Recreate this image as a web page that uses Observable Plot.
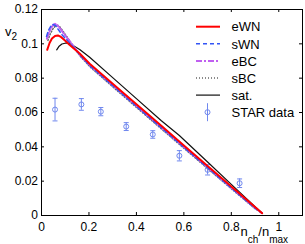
<!DOCTYPE html>
<html><head><meta charset="utf-8">
<script src="https://cdn.jsdelivr.net/npm/d3@7"></script>
<script src="https://cdn.jsdelivr.net/npm/@observablehq/plot@0.6"></script>
<style>body{margin:0;background:#fff}svg{display:block}</style>
</head><body><div id="chart"></div>
<script>
// ---- data ----
const xTicks = [0, 0.2, 0.4, 0.6, 0.8, 1];
const yTicks = [0, 0.02, 0.04, 0.06, 0.08, 0.1, 0.12];

const eWN_x = [0.024, 0.034, 0.044, 0.057, 0.069, 0.082, 0.099, 0.119, 0.161, 0.203, 0.3, 0.4, 0.5, 0.6, 0.7, 0.8, 0.9, 0.93];
const eWN_v = [0.0965, 0.1005, 0.1031, 0.1046, 0.1049, 0.1040, 0.1019, 0.0993, 0.0944, 0.0884, 0.0768, 0.0648, 0.0528, 0.0408, 0.0289, 0.0169, 0.0049, 0.0013];

const sWN_x = [0.021, 0.029, 0.040, 0.048, 0.059, 0.071, 0.086, 0.103, 0.128, 0.161, 0.203, 0.3, 0.4, 0.5, 0.6, 0.7, 0.8, 0.9, 0.93];
const sWN_v = [0.1043, 0.1078, 0.1104, 0.1113, 0.1107, 0.1083, 0.1054, 0.1028, 0.0990, 0.0936, 0.0873, 0.0756, 0.0636, 0.0517, 0.0397, 0.0279, 0.0160, 0.0043, 0.0013];

const eBC_x = [0.023, 0.032, 0.043, 0.051, 0.057, 0.066, 0.078, 0.092, 0.108, 0.13, 0.161, 0.203, 0.3, 0.4, 0.5, 0.6, 0.7, 0.8, 0.9, 0.93];
const eBC_v = [0.1030, 0.1068, 0.1098, 0.1112, 0.1117, 0.1110, 0.1090, 0.1063, 0.1035, 0.0995, 0.0938, 0.0875, 0.0758, 0.0638, 0.0519, 0.0399, 0.0280, 0.0161, 0.0044, 0.0013];

const sBC_x = [0.027, 0.036, 0.047, 0.058, 0.069, 0.078, 0.09, 0.105, 0.125, 0.161, 0.203, 0.3, 0.4, 0.5, 0.6, 0.7, 0.8, 0.9, 0.93];
const sBC_v = [0.1020, 0.1055, 0.1085, 0.1102, 0.1107, 0.1098, 0.1075, 0.1045, 0.1005, 0.0932, 0.0868, 0.0750, 0.0630, 0.0511, 0.0392, 0.0274, 0.0156, 0.0040, 0.0013];

const sat_x = [0.064, 0.073, 0.086, 0.103, 0.119, 0.161, 0.203, 0.3, 0.4, 0.504, 0.581, 0.7, 0.8, 0.9, 0.93];
const sat_v = [0.0965, 0.0984, 0.0999, 0.1005, 0.1002, 0.0967, 0.0922, 0.0803, 0.0681, 0.0553, 0.0466, 0.0312, 0.0181, 0.0052, 0.0013];

const star_x = [0.057, 0.168, 0.25, 0.357, 0.469, 0.581, 0.70, 0.835];
const star_v = [0.0617, 0.0647, 0.0605, 0.0518, 0.0472, 0.0348, 0.0266, 0.0188];
const star_e = [0.0066, 0.0034, 0.0024, 0.0023, 0.0022, 0.0030, 0.0030, 0.0025];

const legendLabels = ["eWN", "sWN", "eBC", "sBC", "sat.", "STAR data"];

// ---- build tables ----
const mk = (xs, vs) => xs.map((x, i) => ({x, v: vs[i]}));
const eWN = mk(eWN_x, eWN_v), sWN = mk(sWN_x, sWN_v), eBC = mk(eBC_x, eBC_v), sBC = mk(sBC_x, sBC_v), sat = mk(sat_x, sat_v);
const star = star_x.map((x, i) => ({x, v: star_v[i], lo: star_v[i] - star_e[i], hi: star_v[i] + star_e[i]}));

const styles = {
  eWN: {stroke: "#ff0000", strokeWidth: 2},
  sWN: {stroke: "#3355f5", strokeWidth: 1.5, strokeDasharray: "4,3"},
  eBC: {stroke: "#c060f0", strokeWidth: 2, strokeDasharray: "6,2,2,2"},
  sBC: {stroke: "#666666", strokeWidth: 1.5, strokeDasharray: "1,2"},
  sat: {stroke: "#111111", strokeWidth: 1.2},
};
const starColor = "#7088ee";
const capSymbol = {draw(ctx, size) { const r = Math.sqrt(size / Math.PI); ctx.moveTo(-r, 0); ctx.lineTo(r, 0); }};

const W = 305, H = 244, mL = 41, mR = 3, mT = 9, mB = 29;
const iW = W - mL - mR, iH = H - mT - mB;
const fmt = d => String(+d.toFixed(2));

const svg = Plot.plot({
  width: W, height: H,
  marginLeft: mL, marginRight: mR, marginTop: mT, marginBottom: mB,
  x: {domain: [0, 1.1]},
  y: {domain: [0, 0.12]},
  style: {fontFamily: "'Liberation Sans', Arial, sans-serif", fontSize: "12px", background: "white", color: "black", overflow: "visible"},
  marks: [
    Plot.ruleX(xTicks, {x: d => d, insetTop: iH - 3, stroke: "black"}),
    Plot.ruleX(xTicks, {x: d => d, insetBottom: iH - 3, stroke: "black"}),
    Plot.ruleY(yTicks, {y: d => d, insetRight: iW - 3, stroke: "black"}),
    Plot.ruleY(yTicks, {y: d => d, insetLeft: iW - 3, stroke: "black"}),
    Plot.axisX({ticks: xTicks, tickSize: 0, tickPadding: 7, tickFormat: fmt, label: null, fontSize: 12}),
    Plot.axisY({ticks: yTicks, tickSize: 0, tickPadding: 3.5, tickFormat: fmt, label: null, fontSize: 12}),
    Plot.ruleX(star, {x: "x", y1: "lo", y2: "hi", stroke: starColor, strokeWidth: 1}),
    Plot.dot(star, {x: "x", y: "lo", symbol: capSymbol, r: 2.5, stroke: starColor, strokeWidth: 1}),
    Plot.dot(star, {x: "x", y: "hi", symbol: capSymbol, r: 2.5, stroke: starColor, strokeWidth: 1}),
    Plot.dot(star, {x: "x", y: "v", r: 2.5, stroke: starColor, fill: "none", strokeWidth: 1}),
    Plot.line(sat, {x: "x", y: "v", ...styles.sat}),
    Plot.line(sBC, {x: "x", y: "v", ...styles.sBC}),
    Plot.line(eBC, {x: "x", y: "v", ...styles.eBC}),
    Plot.line(sWN, {x: "x", y: "v", ...styles.sWN}),
    Plot.line(eWN, {x: "x", y: "v", ...styles.eWN}),
    Plot.frame({stroke: "black", strokeWidth: 1})
  ]
});
document.getElementById("chart").appendChild(svg);

// ---- axis titles & legend ----
const s = d3.select(svg);
const ff = "'Liberation Sans', Arial, sans-serif";
const yl = s.append("text").attr("x", 5).attr("y", 36).attr("text-anchor", "start").attr("font-family", ff).attr("font-size", 13).attr("fill", "black");
yl.append("tspan").text("v");
yl.append("tspan").attr("font-size", 10).attr("dy", 4).text("2");

const xl = s.append("text").attr("x", 240.5).attr("y", 236).attr("text-anchor", "start").attr("font-family", ff).attr("font-size", 13).attr("fill", "black");
xl.append("tspan").text("n");
xl.append("tspan").attr("font-size", 10).attr("dy", 6.5).text("ch");
xl.append("tspan").attr("dy", -6.5).text("/n");
xl.append("tspan").attr("font-size", 10).attr("dy", 7).text("max");

const keys = ["eWN", "sWN", "eBC", "sBC", "sat"];
const lg = s.append("g").attr("font-family", ff).attr("font-size", 13).attr("text-anchor", "start");
legendLabels.forEach((lab, i) => {
  const cy = 26.7 + i * 17.1;
  if (i < 5) {
    const st = styles[keys[i]];
    lg.append("line").attr("x1", 196).attr("x2", 220).attr("y1", cy).attr("y2", cy)
      .attr("stroke", st.stroke).attr("stroke-width", st.strokeWidth)
      .attr("stroke-dasharray", st.strokeDasharray || null);
  } else {
    lg.append("line").attr("x1", 207.5).attr("x2", 207.5).attr("y1", cy - 9).attr("y2", cy + 9).attr("stroke", starColor);
    lg.append("circle").attr("cx", 207.5).attr("cy", cy).attr("r", 2.5).attr("fill", "none").attr("stroke", starColor);
  }
  lg.append("text").attr("x", 231.5).attr("y", cy + 4.7).attr("text-anchor", "start").attr("fill", "black").text(lab);
});
</script></body></html>
